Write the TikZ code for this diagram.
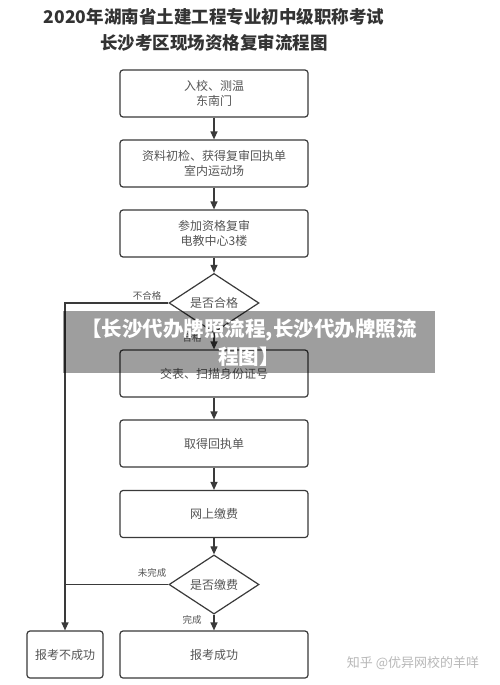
\documentclass[tikz,border=0pt]{standalone}
\usepackage{fontspec}
\setmainfont{Noto Sans CJK SC}
\usepackage{tikz}
\usetikzlibrary{shapes.geometric, arrows.meta}

\definecolor{linegray}{HTML}{3A3A3A}
\definecolor{textgray}{HTML}{555555}
\definecolor{titlegray}{HTML}{333333}

\begin{document}
\begin{tikzpicture}[x=1pt, y=-1pt,
        box/.style={draw=linegray, line width=1.2pt, rounded corners=3pt, minimum width=188pt, minimum height=47pt, align=center, text=textgray, font=\fontsize{12}{15}\selectfont},
        check/.style={draw=linegray, line width=1.2pt, diamond, minimum width=90pt, minimum height=46pt, inner sep=0pt, text=textgray, font=\fontsize{12}{15}\selectfont},
        tag/.style={text=textgray, font=\fontsize{9.5}{11}\selectfont, inner sep=1pt},
        flow/.style={draw=linegray, line width=1.2pt, -{Triangle[length=8pt, width=7pt]}}]
        \fill [white] (0, 0) rectangle (500, 685);
        \useasboundingbox (0, 0) rectangle (500, 685);

        \node [text=titlegray, align=center, font=\fontsize{17.5}{26}\selectfont\bfseries] (title) at (214, 30) {2020年湖南省土建工程专业初中级职称考试\\长沙考区现场资格复审流程图};

        \node [box] (B1) at (214, 93.5) {入校、测温\\东南门};
        \node [box] (B2) at (214, 163.5) {资料初检、获得复审回执单\\室内运动场};
        \node [box] (B3) at (214, 233.5) {参加资格复审\\电教中心3楼};
        \node [check] (D1) at (214, 303) {是否合格};
        \node [box] (B4) at (214, 373.5) {交表、扫描身份证号};
        \node [box] (B5) at (214, 443.5) {取得回执单};
        \node [box] (B6) at (214, 514) {网上缴费};
        \node [check] (D2) at (214, 584.5) {是否缴费};
        \node [box, minimum width=76pt] (F1) at (65, 654.5) {报考不成功};
        \node [box] (S1) at (214, 654.5) {报考成功};

        \draw [flow] (B1) -- (B2);
        \draw [flow] (B2) -- (B3);
        \draw [flow] (B3) -- (D1);
        \draw [flow] (D1) -- (B4);
        \draw [flow] (B4) -- (B5);
        \draw [flow] (B5) -- (B6);
        \draw [flow] (B6) -- (D2);
        \draw [flow] (D2) -- (S1);
        \draw [flow] (D1.west) -| (F1.north);
        \draw [draw=linegray, line width=1.2pt] (D2.west) -- (D2.west -| F1.north);

        \node [tag] (L1) at (147, 296) {不合格};
        \node [tag] (L2) at (192, 338) {合格};
        \node [tag] (L3) at (152, 573) {未完成};
        \node [tag] (L4) at (192, 620) {完成};

        \node [text=black!28, font=\fontsize{13}{15}\selectfont] (mark) at (413, 663) {知乎 @优异网校的羊咩};

        \fill [black, opacity=0.38] (63, 311) rectangle (435, 373);
        \node [text=white, align=center, font=\fontsize{20.5}{28}\selectfont\bfseries] (banner) at (249, 343) {【长沙代办牌照流程,长沙代办牌照流\\程图】};
    \end{tikzpicture}
\end{document}
